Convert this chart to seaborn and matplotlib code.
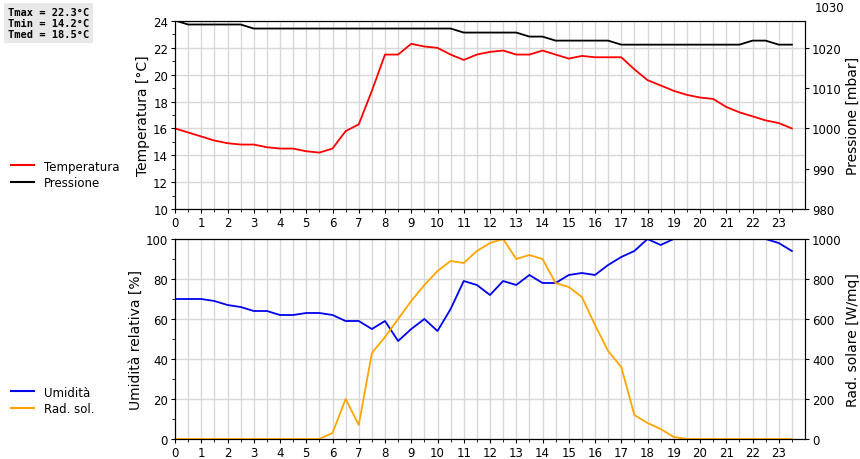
import numpy as np
import pandas as pd
import matplotlib
matplotlib.use("Agg")
import matplotlib.pyplot as plt
import seaborn as sns

hours = [i * 0.5 for i in range(48)]
temperatura = [16.0, 15.7, 15.4, 15.1, 14.9, 14.8, 14.8, 14.6, 14.5, 14.5, 14.3, 14.2,
               14.5, 15.8, 16.3, 18.8, 21.5, 21.5, 22.3, 22.1, 22.0, 21.5, 21.1, 21.5,
               21.7, 21.8, 21.5, 21.5, 21.8, 21.5, 21.2, 21.4, 21.3, 21.3, 21.3, 20.4,
               19.6, 19.2, 18.8, 18.5, 18.3, 18.2, 17.6, 17.2, 16.9, 16.6, 16.4, 16.0]
pressione = [1026.8, 1025.8, 1025.8, 1025.8, 1025.8, 1025.8, 1024.8, 1024.8, 1024.8, 1024.8,
             1024.8, 1024.8, 1024.8, 1024.8, 1024.8, 1024.8, 1024.8, 1024.8, 1024.8, 1024.8,
             1024.8, 1024.8, 1023.8, 1023.8, 1023.8, 1023.8, 1023.8, 1022.8, 1022.8, 1021.8,
             1021.8, 1021.8, 1021.8, 1021.8, 1020.8, 1020.8, 1020.8, 1020.8, 1020.8, 1020.8,
             1020.8, 1020.8, 1020.8, 1020.8, 1021.8, 1021.8, 1020.8, 1020.8]
umidita = [70, 70, 70, 69, 67, 66, 64, 64, 62, 62, 63, 63, 62, 59, 59, 55, 59, 49, 55, 60,
           54, 65, 79, 77, 72, 79, 77, 82, 78, 78, 82, 83, 82, 87, 91, 94, 100, 97, 100, 100,
           100, 100, 100, 100, 100, 100, 98, 94]
radsol = [0, 0, 0, 0, 0, 0, 0, 0, 0, 0, 0, 0, 30, 200, 70, 430, 510, 600, 690, 770, 840,
          890, 880, 940, 980, 1000, 900, 920, 900, 780, 760, 710, 570, 440, 360, 120, 80,
          50, 10, 0, 0, 0, 0, 0, 0, 0, 0, 0]
stats = ["Tmax = 22.3°C", "Tmin = 14.2°C", "Tmed = 18.5°C"]

df = pd.DataFrame({"h": hours, "T": temperatura, "P": pressione, "U": umidita, "R": radsol})

fig = plt.figure(figsize=(8.6, 4.6), dpi=100)
W, H = 860, 460
def box(l, t, r, b):
    return [l / W, 1 - b / H, (r - l) / W, (b - t) / H]

ax1 = fig.add_axes(box(175, 22, 805, 210))
ax2 = fig.add_axes(box(175, 240, 805, 440))
ax1r = ax1.twinx()
ax2r = ax2.twinx()

sns.lineplot(data=df, x="h", y="T", ax=ax1, color="#ff0000", lw=1.3)
sns.lineplot(data=df, x="h", y="P", ax=ax1r, color="black", lw=1.3)
sns.lineplot(data=df, x="h", y="U", ax=ax2, color="#0000ee", lw=1.3, zorder=3)
sns.lineplot(data=df, x="h", y="R", ax=ax2r, color="orange", lw=1.3)

FS = 8.5
for ax in (ax1, ax2):
    ax.set_xlim(0, 24)
    ax.set_xticks(range(24))
    ax.set_xticks(np.arange(0.5, 24, 0.5), minor=True)
    ax.grid(True, which="both", axis="x", color="#d8d8d8", lw=1)
    ax.grid(True, which="major", axis="y", color="#d8d8d8", lw=1)
    ax.set_axisbelow(True)
    ax.set_xlabel("")
    ax.tick_params(labelsize=FS, length=3, pad=2)
ax1.set_ylim(10, 24)
ax1.set_yticks(range(10, 25, 2))
ax1.set_yticks(range(10, 25), minor=True)
ax1.set_ylabel("Temperatura [°C]", fontsize=10, labelpad=2)
ax1r.set_ylim(980, 1026.67)
ax1r.set_yticks(range(980, 1021, 10))
ax1r.set_ylabel("Pressione [mbar]", fontsize=10, labelpad=3)
ax1r.text(1.015, 1.07, "1030", transform=ax1.transAxes, fontsize=FS, va="center")
ax2.set_ylim(0, 100)
ax2.set_yticks(range(0, 101, 20))
ax2.set_yticks(range(0, 101, 10), minor=True)
ax2.set_ylabel("Umidità relativa [%]", fontsize=10, labelpad=2)
ax2r.set_ylim(0, 1000)
ax2r.set_yticks(range(0, 1001, 200))
ax2r.set_ylabel("Rad. solare [W/mq]", fontsize=10, labelpad=3)
for ax in (ax1r, ax2r):
    ax.tick_params(labelsize=FS, length=3, pad=2)
    ax.set_xlim(0, 24)

fig.legend(handles=[plt.Line2D([], [], color="#ff0000"), plt.Line2D([], [], color="black")],
           labels=["Temperatura", "Pressione"], loc="upper left",
           bbox_to_anchor=(0, 1 - 150 / H), frameon=False, fontsize=FS, handlelength=2,
           labelspacing=0.3)
fig.legend(handles=[plt.Line2D([], [], color="#0000ee"), plt.Line2D([], [], color="orange")],
           labels=["Umidità", "Rad. sol."], loc="upper left",
           bbox_to_anchor=(0, 1 - 376 / H), frameon=False, fontsize=FS, handlelength=2,
           labelspacing=0.3)
fig.text(8 / W, 1 - 8 / H, "\n".join(stats), family="DejaVu Sans Mono", fontweight="bold",
         fontsize=7.5, va="top", linespacing=1.1,
         bbox=dict(facecolor="#e8e8e8", edgecolor="none", pad=3))
fig.savefig("out.png", dpi=100)
